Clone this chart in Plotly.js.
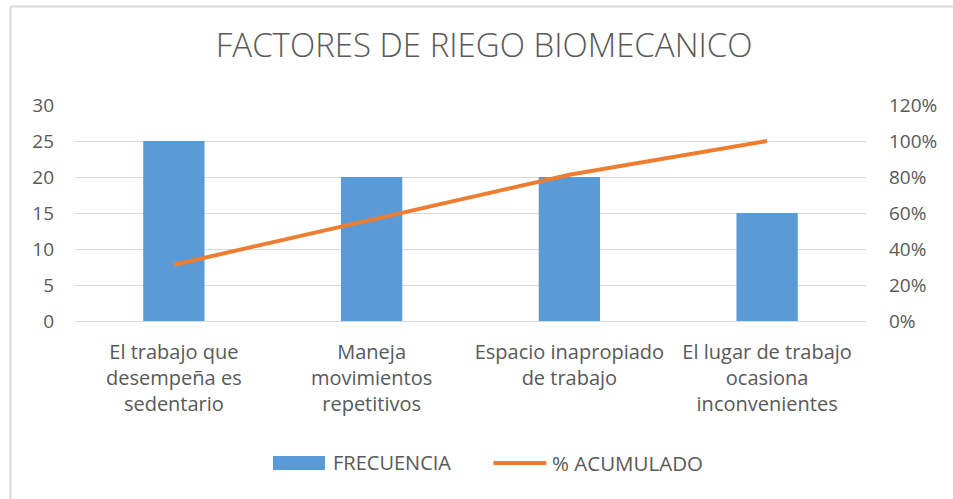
<!DOCTYPE html>
<html>
<head>
<meta charset="utf-8">
<script src="https://cdn.plot.ly/plotly-3.0.1.min.js"></script>
<style>html,body{margin:0;padding:0;background:#fff;}#chart{width:953px;height:499px;}</style>
</head>
<body>
<div id="chart"></div>
<script>
const categories = [
  "El trabajo que<br>desempeña es<br>sedentario",
  "Maneja<br>movimientos<br>repetitivos",
  "Espacio inapropiado<br>de trabajo",
  "El lugar de trabajo<br>ocasiona<br>inconvenientes"
];
const frecuencia = [25, 20, 20, 15];
const acumulado = [0.3125, 0.5625, 0.8125, 1.0];
const leftTicks = [0, 5, 10, 15, 20, 25, 30];
const rightTicks = [0, 0.2, 0.4, 0.6, 0.8, 1.0, 1.2];
const rightTickText = ["0%", "20%", "40%", "60%", "80%", "100%", "120%"];
const seriesNames = ["FRECUENCIA", "% ACUMULADO"];

const font = "Open Sans, Liberation Sans, sans-serif";
const grey = "#595959";
const blue = "#5B9BD5";
const orange = "#ED7D31";
const fs = 19;

const traces = [
  {
    type: "bar", name: seriesNames[0], x: categories, y: frecuencia,
    marker: {color: blue}, yaxis: "y"
  },
  {
    type: "scatter", mode: "lines", name: seriesNames[1], x: categories, y: acumulado,
    line: {color: orange, width: 4}, yaxis: "y2"
  }
];

const layout = {
  width: 953, height: 499,
  margin: {l: 75, r: 87, t: 105, b: 178},
  paper_bgcolor: "#fff", plot_bgcolor: "#fff",
  bargap: 0.69,
  title: {text: "FACTORES DE RIEGO BIOMECANICO", font: {family: font, size: 33, color: grey, weight: 300},
    x: 0.508, xanchor: "center", xref: "container", y: 0.908, yanchor: "middle", yref: "container"},
  font: {family: font, size: fs, color: grey},
  xaxis: {
    tickfont: {family: font, size: 20, color: grey}, showgrid: false,
    showline: true, linecolor: "#d9d9d9", linewidth: 1, ticks: "", ticklabelstandoff: 13
  },
  yaxis: {
    range: [0, 30], tickvals: leftTicks, ticks: "", showline: false,
    gridcolor: "#d9d9d9", gridwidth: 1, zeroline: false,
    tickfont: {family: font, size: fs, color: grey}, ticklabelstandoff: 20
  },
  yaxis2: {
    range: [0, 1.2], tickvals: rightTicks, ticktext: rightTickText,
    overlaying: "y", side: "right", showgrid: false, zeroline: false, ticks: "",
    tickfont: {family: font, size: fs, color: grey}, ticklabelstandoff: 22
  },
  showlegend: false,
  shapes: [
    {type: "line", xref: "paper", yref: "paper", x0: -0.0822, x1: 1.11, y0: 1.456, y1: 1.456,
      line: {color: "#d9d9d9", width: 2}},
    {type: "line", xref: "paper", yref: "paper", x0: -0.0815, x1: -0.0815, y0: 1.456, y1: -0.83,
      line: {color: "#d9d9d9", width: 2}},
    {type: "rect", xref: "paper", yref: "paper", x0: 0.2503, x1: 0.316, y0: -0.690, y1: -0.625,
      fillcolor: blue, line: {width: 0}},
    {type: "line", xref: "paper", yref: "paper", x0: 0.529, x1: 0.596, y0: -0.657, y1: -0.657,
      line: {color: orange, width: 4}}
  ],
  annotations: [
    {text: seriesNames[0], xref: "paper", yref: "paper", x: 0.3236, y: -0.657, xanchor: "left", yanchor: "middle",
      showarrow: false, font: {family: font, size: 20, color: grey}},
    {text: seriesNames[1], xref: "paper", yref: "paper", x: 0.601, y: -0.657, xanchor: "left", yanchor: "middle",
      showarrow: false, font: {family: font, size: 20.5, color: grey}}
  ]
};

Plotly.newPlot("chart", traces, layout, {displayModeBar: false, staticPlot: true});
</script>
</body>
</html>
